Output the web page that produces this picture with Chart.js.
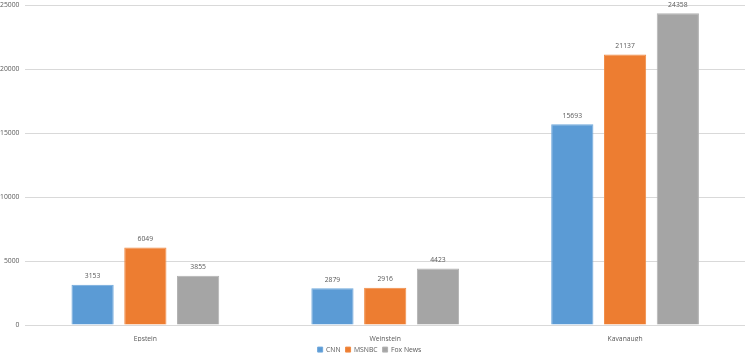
<!DOCTYPE html>
<html><head><meta charset="utf-8">
<script src="https://cdn.jsdelivr.net/npm/chart.js@4"></script>
<style>html,body{margin:0;padding:0;background:#fff}#wrap{width:750px;height:357px}</style>
</head><body><div id="wrap"><canvas id="c" width="750" height="357"></canvas></div>
<script>
const categories = ["Epstein", "Weinstein", "Kavanaugh"];
const cnn = [3153, 2879, 15693];
const msnbc = [6049, 2916, 21137];
const fox = [3855, 4423, 24358];
const yTicks = [0, 5000, 10000, 15000, 20000, 25000];

const FONT = "'Open Sans', 'Liberation Sans', sans-serif";
const FS = 6.8;
const labelPlugin = {
  id: 'vals',
  afterDatasetsDraw(chart) {
    const ctx = chart.ctx;
    ctx.save();
    ctx.font = FS + "px " + FONT;
    ctx.fillStyle = '#595959';
    ctx.textAlign = 'center';
    ctx.textBaseline = 'bottom';
    chart.data.datasets.forEach((ds, i) => {
      chart.getDatasetMeta(i).data.forEach((bar, j) => {
        ctx.fillText(String(ds.data[j]), bar.x, bar.y - 5);
      });
    });
    ctx.restore();
  }
};

new Chart(document.getElementById('c'), {
  type: 'bar',
  data: {
    labels: categories,
    datasets: [
      {label: 'CNN', data: cnn, backgroundColor: '#5B9BD5', borderColor: '#6FA8DC', borderWidth: 1},
      {label: 'MSNBC', data: msnbc, backgroundColor: '#ED7D31', borderColor: '#F08C45', borderWidth: 1},
      {label: 'Fox News', data: fox, backgroundColor: '#A5A5A5', borderColor: '#B2B2B2', borderWidth: 1}
    ]
  },
  options: {
    responsive: false,
    animation: false,
    devicePixelRatio: 1,
    layout: {padding: {top: 5, right: 5, left: -6, bottom: -6}},
    datasets: {bar: {categoryPercentage: 0.66, barPercentage: 0.8}},
    scales: {
      x: {
        grid: {display: false, drawTicks: false},
        border: {display: false},
        ticks: {font: {size: FS, family: FONT}, color: '#595959', padding: 10},
        afterFit(scale) { scale.height -= 12; }
      },
      y: {
        min: 0, max: 25000,
        afterBuildTicks(axis) { axis.ticks = yTicks.map(v => ({value: v})); },
        afterFit(scale) { scale.paddingTop = 0; },
        grid: {color: '#D9D9D9', drawTicks: false, lineWidth: 1},
        border: {display: false},
        ticks: {font: {size: FS, family: FONT}, color: '#595959', padding: 6, callback: v => String(v)}
      }
    },
    plugins: {
      legend: {
        position: 'bottom',
        labels: {boxWidth: 5, boxHeight: 5, font: {size: FS, family: FONT}, color: '#595959', padding: 5}
      },
      tooltip: {enabled: false}
    }
  },
  plugins: [labelPlugin]
});
</script></body></html>
